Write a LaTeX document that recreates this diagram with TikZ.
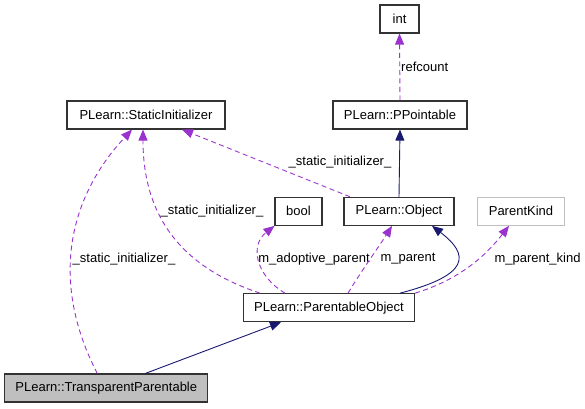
\documentclass[tikz,border=0pt]{standalone}
\usepackage{fontspec}
\setmainfont{Liberation Sans}
\usetikzlibrary{arrows.meta}
\definecolor{depc}{HTML}{9A32CD}
\definecolor{inhc}{HTML}{191970}
\definecolor{boxline}{HTML}{333333}
\definecolor{pkline}{HTML}{BFBFBF}
\definecolor{tpfill}{HTML}{BFBFBF}
\begin{document}
\begin{tikzpicture}[x=1pt,y=-1pt,
  font=\fontsize{13}{15}\selectfont,
  box/.style={draw=boxline, line width=1.1pt, minimum height=28pt, inner sep=0pt, fill=white},
  depe/.style={draw=depc, line width=0.9pt, dash pattern=on 5pt off 3.5pt, -{Triangle[length=11pt,width=9pt]}},
  inhe/.style={draw=inhc, line width=0.9pt, -{Triangle[length=11pt,width=9pt]}},
  lbl/.style={inner sep=0pt, text=black}]
\useasboundingbox (0,0) rectangle (585,408);
% nodes
\node[box, minimum width=39pt] (int) at (399.5,19) {int};
\node[box, minimum width=134pt] (pp) at (400,115) {PLearn::PPointable};
\node[box, minimum width=158pt] (si) at (146,115) {PLearn::StaticInitializer};
\node[box, minimum width=47pt] (bool) at (298.5,211.3) {bool};
\node[box, minimum width=110pt] (obj) at (399,211.3) {PLearn::Object};
\node[box, draw=pkline, minimum width=87pt] (pk) at (521,211.3) {ParentKind};
\node[box, minimum width=171pt] (po) at (329,307.7) {PLearn::ParentableObject};
\node[box, fill=tpfill, minimum width=203pt] (tp) at (106.3,388) {PLearn::TransparentParentable};
% edges
\draw[depe] (pp.north) -- (int.south);
\node[lbl, anchor=west] (l1) at (401,67) {refcount};
\draw[inhe] (obj.north) -- (pp.south);
\draw[depe] ([xshift=-49pt]obj.north) -- ([xshift=36pt]si.south);
\node[lbl] (l2) at (340,162) {\_static\_initializer\_};
\draw[depe] ([xshift=-69pt]po.north) .. controls (175,265) and (143,210) .. ([xshift=-3pt]si.south);
\node[lbl] (l3) at (212,211) {\_static\_initializer\_};
\draw[depe] ([xshift=-9pt]tp.north) .. controls (54,290) and (62,205) .. ([xshift=-14pt]si.south);
\node[lbl] (l4) at (124,259) {\_static\_initializer\_};
\draw[depe] ([xshift=-44pt]po.north) .. controls (255,275) and (250,245) .. ([xshift=-24pt]bool.south);
\node[lbl] (l5) at (314,259) {m\_adoptive\_parent};
\draw[depe] ([xshift=19pt]po.north) .. controls (362,270) and (380,245) .. ([xshift=-7pt]obj.south);
\node[lbl] (l6) at (408,259) {m\_parent};
\draw[inhe] ([xshift=71pt]po.north) .. controls (470,275) and (470,255) .. ([xshift=33pt]obj.south);
\draw[depe] (po.north east) .. controls (465,278) and (490,250) .. ([xshift=-12pt]pk.south);
\node[lbl] (l7) at (537.5,259) {m\_parent\_kind};
\draw[inhe] ([xshift=39pt]tp.north) -- ([xshift=-48pt]po.south);
\end{tikzpicture}
\end{document}
